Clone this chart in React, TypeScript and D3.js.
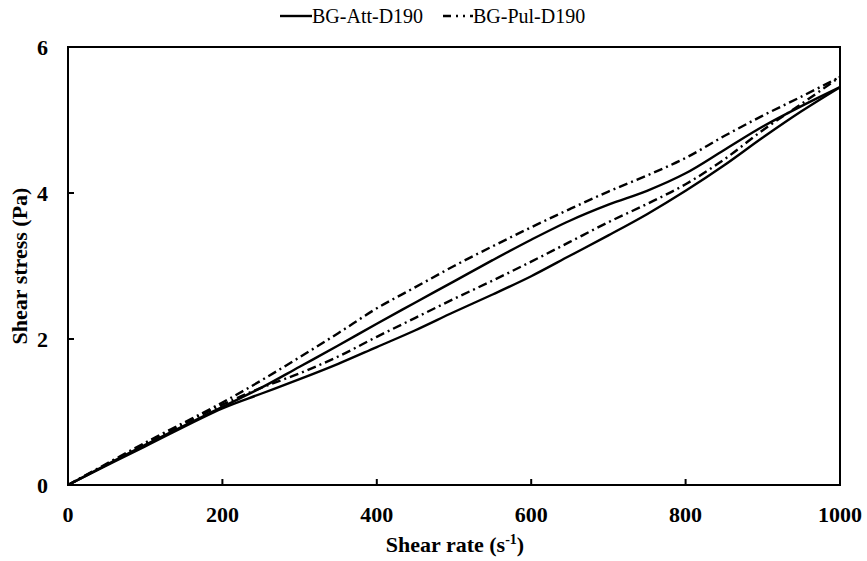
import React from "react";
import * as d3 from "d3";

const shearRate = [0, 100, 200, 250, 300, 350, 400, 450, 500, 550, 600, 650, 700, 750, 800, 850, 900, 950, 1000];
const attUp = [0, 0.55, 1.07, 1.33, 1.62, 1.91, 2.21, 2.5, 2.79, 3.08, 3.36, 3.62, 3.84, 4.03, 4.27, 4.59, 4.91, 5.19, 5.45];
const attDown = [0, 0.53, 1.05, 1.25, 1.45, 1.66, 1.89, 2.12, 2.37, 2.61, 2.86, 3.14, 3.42, 3.71, 4.03, 4.38, 4.76, 5.12, 5.45];
const pulUp = [0, 0.58, 1.13, 1.43, 1.75, 2.08, 2.42, 2.71, 3.0, 3.27, 3.53, 3.78, 4.02, 4.24, 4.48, 4.78, 5.06, 5.32, 5.59];
const pulDown = [0, 0.56, 1.1, 1.33, 1.53, 1.76, 2.03, 2.29, 2.55, 2.8, 3.06, 3.33, 3.6, 3.85, 4.12, 4.46, 4.86, 5.22, 5.59];

const xTicks = [0, 200, 400, 600, 800, 1000];
const yTicks = [0, 2, 4, 6];
const seriesNames = ["BG-Att-D190", "BG-Pul-D190"];

const W = 867, H = 561;
const L = 68, R = 840, T = 47, B = 485;
const FONT = "'Liberation Serif', 'Times New Roman', serif";
const DASH = "9,4,2,4";

export default function App() {
  const x = d3.scaleLinear().domain([0, 1000]).range([L, R]);
  const y = d3.scaleLinear().domain([0, 6]).range([B, T]);
  const line = (vals: number[]) =>
    d3.line<number>().x((_, i) => x(shearRate[i])).y((v) => y(v)).curve(d3.curveCatmullRom.alpha(0.5))(vals) || "";

  return (
    <svg width={W} height={H} style={{ position: "absolute", left: 0, top: 0, background: "#fff" }}>
      {/* curves */}
      <path d={line(attUp)} fill="none" stroke="#000" strokeWidth={2.4} />
      <path d={line(attDown)} fill="none" stroke="#000" strokeWidth={2.4} />
      <path d={line(pulUp)} fill="none" stroke="#000" strokeWidth={2.4} strokeDasharray={DASH} />
      <path d={line(pulDown)} fill="none" stroke="#000" strokeWidth={2.4} strokeDasharray={DASH} />

      {/* frame */}
      <rect x={L} y={T} width={R - L} height={B - T} fill="none" stroke="#000" strokeWidth={2} />

      {/* x ticks */}
      {xTicks.map((t) => (
        <g key={"x" + t}>
          <line x1={x(t)} x2={x(t)} y1={B} y2={B - 6} stroke="#000" strokeWidth={2} />
          <text x={x(t)} y={522} textAnchor="middle" fontFamily={FONT} fontWeight="bold" fontSize={22}>
            {t}
          </text>
        </g>
      ))}
      {/* y ticks */}
      {yTicks.map((t) => (
        <g key={"y" + t}>
          <line x1={L} x2={L + 6} y1={y(t)} y2={y(t)} stroke="#000" strokeWidth={2} />
          <text x={48} y={y(t) + 8} textAnchor="end" fontFamily={FONT} fontWeight="bold" fontSize={22}>
            {t}
          </text>
        </g>
      ))}

      {/* axis titles */}
      <text x={455} y={552} textAnchor="middle" fontFamily={FONT} fontWeight="bold" fontSize={22}>
        Shear rate (s
        <tspan fontSize={14} dy={-8}>-1</tspan>
        <tspan dy={8}>)</tspan>
      </text>
      <text
        transform={`translate(27,266) rotate(-90)`}
        textAnchor="middle"
        fontFamily={FONT}
        fontWeight="bold"
        fontSize={22}
      >
        Shear stress (Pa)
      </text>

      {/* legend */}
      <line x1={280} x2={312} y1={16} y2={16} stroke="#000" strokeWidth={2.4} />
      <text x={312} y={23} fontFamily={FONT} fontSize={20}>{seriesNames[0]}</text>
      <line x1={443} x2={473} y1={16} y2={16} stroke="#000" strokeWidth={2.4} strokeDasharray="8,5,2,5,2,5" />
      <text x={473} y={23} fontFamily={FONT} fontSize={20}>{seriesNames[1]}</text>
    </svg>
  );
}
